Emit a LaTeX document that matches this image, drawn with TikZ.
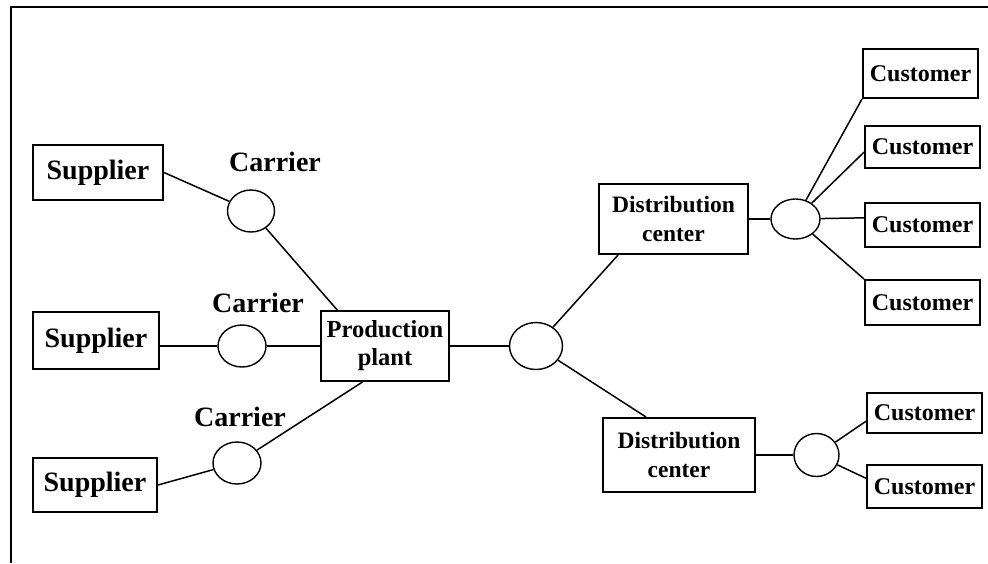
\documentclass[tikz,border=0pt]{standalone}
\usepackage{fontspec}
\setmainfont{Liberation Serif}
\usetikzlibrary{shapes.geometric}
\begin{document}
\begin{tikzpicture}[x=1pt,y=-1pt,
  box/.style={draw,line width=2pt,inner sep=0pt,align=center,font=\bfseries},
  hub/.style={draw,ellipse,line width=1.4pt,inner sep=0pt},
  link/.style={line width=1.5pt},
  lbl/.style={font=\bfseries\fontsize{28}{30}\selectfont,inner sep=0pt}]
  \useasboundingbox (0,0) rectangle (988,563);
  % outer frame (top and left edges only)
  \draw[line width=1.2pt] (11,563) -- (11,7) -- (988,7);

  % suppliers
  \node[box,minimum width=130pt,minimum height=55pt,font=\bfseries\fontsize{28}{30}\selectfont] (s1) at (98,172.5) {Supplier};
  \node[box,minimum width=126pt,minimum height=57pt,font=\bfseries\fontsize{28}{30}\selectfont] (s2) at (96,340.5) {Supplier};
  \node[box,minimum width=124pt,minimum height=54pt,font=\bfseries\fontsize{28}{30}\selectfont] (s3) at (95,485) {Supplier};

  % carriers
  \node[hub,minimum width=47pt,minimum height=42pt] (c1) at (251,211) {};
  \node[hub,minimum width=48pt,minimum height=42pt] (c2) at (242,346) {};
  \node[hub,minimum width=48pt,minimum height=42pt] (c3) at (237,463) {};
  \node[lbl] (l1) at (275,162) {Carrier};
  \node[lbl] (l2) at (258,303) {Carrier};
  \node[lbl] (l3) at (240,417) {Carrier};

  % production plant
  \node[box,minimum width=128pt,minimum height=70pt,font=\bfseries\fontsize{24.5}{28}\selectfont] (pp) at (385,346) {Production\\plant};

  % central hub
  \node[hub,minimum width=53pt,minimum height=47pt] (h0) at (536,346) {};

  % distribution centers
  \node[box,minimum width=149pt,minimum height=70pt,font=\bfseries\fontsize{23.5}{29}\selectfont] (d1) at (673.5,219) {Distribution\\center};
  \node[box,minimum width=152pt,minimum height=74pt,font=\bfseries\fontsize{23.5}{29}\selectfont] (d2) at (679,455) {Distribution\\center};
  \node[hub,minimum width=49pt,minimum height=40pt] (h1) at (795.5,219) {};
  \node[hub,minimum width=45pt,minimum height=43pt] (h2) at (816.5,455) {};

  % customers
  \tikzset{cust/.style={box,minimum width=115pt,font=\bfseries\fontsize{24}{26}\selectfont}}
  \node[cust,minimum height=49pt] (k1) at (920.5,73.5) {Customer};
  \node[cust,minimum height=42pt] (k2) at (922.5,147) {Customer};
  \node[cust,minimum height=44pt] (k3) at (922.5,225) {Customer};
  \node[cust,minimum height=45pt] (k4) at (922.5,302.5) {Customer};
  \node[cust,minimum height=40pt] (k5) at (924.5,413) {Customer};
  \node[cust,minimum height=43pt] (k6) at (924.5,486.5) {Customer};

  % connectors
  \draw[link] (s1.east) -- (c1);
  \draw[link] (c1) -- (pp.143);
  \draw[link] (s2.east |- c2) -- (c2);
  \draw[link] (c2) -- (pp.west);
  \draw[link] (s3.east) -- (c3);
  \draw[link] (c3) -- (pp.238);
  \draw[link] (pp.east) -- (h0);
  \draw[link] (h0) -- (d1.213);
  \draw[link] (h0) -- (d2.131);
  \draw[link] (d1.east) -- (h1);
  \draw[link] (h1) -- (k1.south west);
  \draw[link] (h1) -- (k2.185);
  \draw[link] (h1) -- (k3.173);
  \draw[link] (h1) -- (k4.north west);
  \draw[link] (d2.east) -- (h2);
  \draw[link] (h2) -- (k5.188);
  \draw[link] (h2) -- (k6.172);
\end{tikzpicture}
\end{document}
